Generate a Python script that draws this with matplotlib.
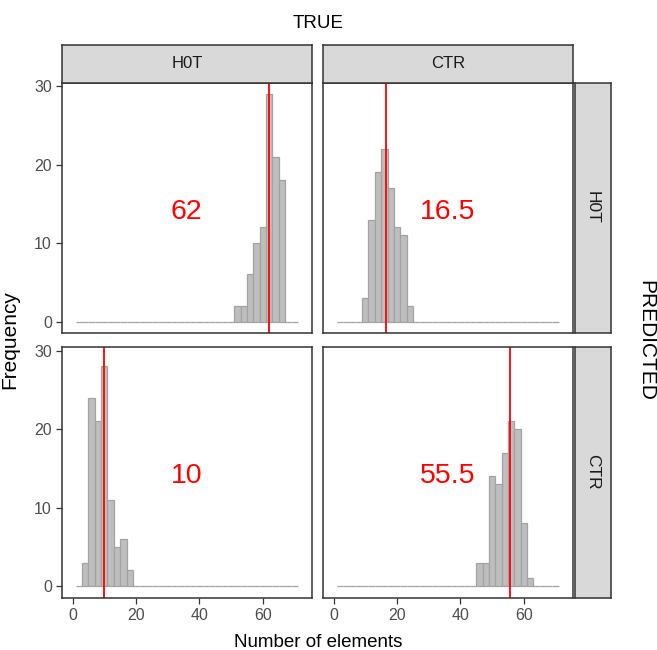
import numpy as np
import matplotlib
matplotlib.use("Agg")
import matplotlib.pyplot as plt

plt.rcParams['font.family'] = ['Liberation Sans', 'DejaVu Sans']

# facet levels
true_levels = ['H0T', 'CTR']        # columns
pred_levels = ['H0T', 'CTR']        # rows

# histogram bins (binwidth 2, shared range)
bin_edges = np.arange(1, 73, 2)

# non-empty bins: left edges and counts for each (predicted, true) panel
hot_hot_left = [51, 53, 55, 57, 59, 61, 63, 65]
hot_hot_count = [2, 2, 6, 10, 12, 29, 21, 18]

hot_ctr_left = [9, 11, 13, 15, 17, 19, 21, 23]
hot_ctr_count = [3, 13, 19, 22, 17, 12, 11, 2]

ctr_hot_left = [3, 5, 7, 9, 11, 13, 15, 17]
ctr_hot_count = [3, 24, 21, 28, 11, 5, 6, 2]

ctr_ctr_left = [45, 47, 49, 51, 53, 55, 57, 59, 61]
ctr_ctr_count = [3, 3, 14, 13, 17, 21, 20, 8, 1]

# medians shown as red line + label
medians = [[62, 16.5], [10, 55.5]]
median_labels = [['62', '16.5'], ['10', '55.5']]
label_x = 36
label_y = 14

panels = [[(hot_hot_left, hot_hot_count), (hot_ctr_left, hot_ctr_count)],
          [(ctr_hot_left, ctr_hot_count), (ctr_ctr_left, ctr_ctr_count)]]

fig = plt.figure(figsize=(6.57, 6.5), dpi=100)

W, H = 657.0, 650.0
col_x = [62.3 / W, 323.3 / W]
pw = 249.7 / W
row_y = [1 - 333 / H, 1 - 597.5 / H]
ph = 250.5 / H
border = '#333333'

for r in range(2):
    for c in range(2):
        ax = fig.add_axes([col_x[c], row_y[r], pw, ph])
        left, count = panels[r][c]
        centers = np.array(left) + 1
        ax.hist(centers, bins=bin_edges, weights=count,
                facecolor='#BEBEBE', edgecolor='#A3A3A3', linewidth=0.9)
        ax.axvline(medians[r][c], color='red', lw=1.3)
        ax.text(label_x, label_y, median_labels[r][c],
                color='red', fontsize=20.5, ha='center', va='center')
        ax.set_xlim(-3.25, 75.5)
        ax.set_ylim(-1.45, 30.45)
        ax.set_xticks([0, 20, 40, 60])
        ax.set_yticks([0, 10, 20, 30])
        ax.tick_params(colors=border, labelcolor='#4D4D4D', labelsize=11.5,
                       length=4, width=0.9)
        if c != 0:
            ax.tick_params(axis='y', left=False, labelleft=False)
        if r != 1:
            ax.tick_params(axis='x', bottom=False, labelbottom=False)
        for s in ax.spines.values():
            s.set_color(border)
            s.set_linewidth(1.1)

        # strips
        if r == 0:
            sa = fig.add_axes([col_x[c], 1 - 82.5 / H, pw, 37.5 / H])
            sa.set_facecolor('#D9D9D9')
            sa.set_xticks([])
            sa.set_yticks([])
            for s in sa.spines.values():
                s.set_color(border)
                s.set_linewidth(1.1)
            sa.text(0.5, 0.5, true_levels[c], transform=sa.transAxes,
                    ha='center', va='center', fontsize=12, color='#1A1A1A')
        if c == 1:
            sa = fig.add_axes([574.5 / W, row_y[r], 36.0 / W, ph])
            sa.set_facecolor('#D9D9D9')
            sa.set_xticks([])
            sa.set_yticks([])
            for s in sa.spines.values():
                s.set_color(border)
                s.set_linewidth(1.1)
            sa.text(0.5, 0.5, pred_levels[r], transform=sa.transAxes,
                    ha='center', va='center', fontsize=12.5, color='#1A1A1A',
                    rotation=-90)

fig.text(317.7 / W, 1 - 28 / H, 'TRUE', ha='center', va='baseline', fontsize=13.5)
fig.text(646 / W, 1 - 340 / H, 'PREDICTED', ha='center', va='center',
         fontsize=15, rotation=-90)
fig.text(10 / W, 1 - 340 / H, 'Frequency', ha='center', va='center',
         fontsize=15, rotation=90)
fig.text(317.7 / W, 1 - 647 / H, 'Number of elements', ha='center',
         va='baseline', fontsize=13.5)

fig.savefig('out.png', dpi=100)
